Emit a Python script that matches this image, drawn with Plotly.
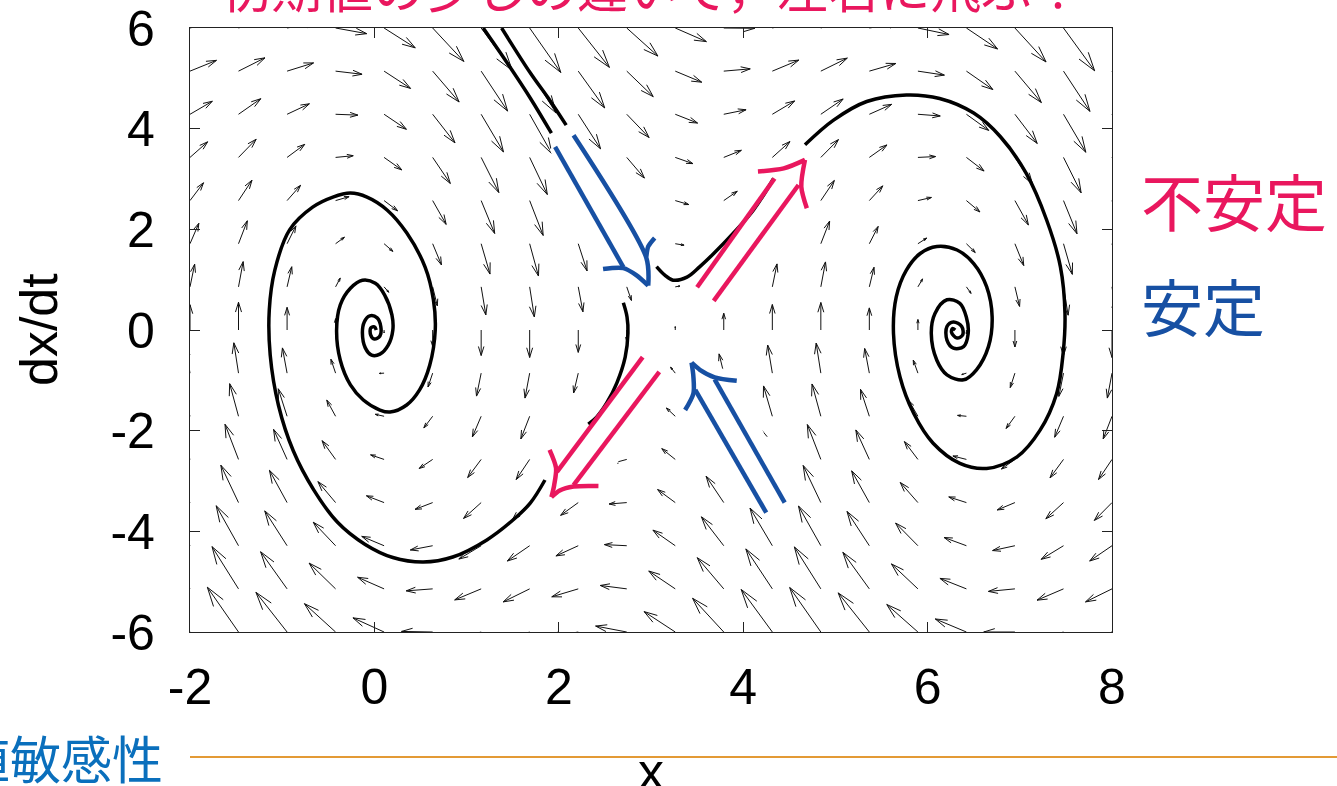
import math
import plotly.graph_objects as go

# vector field grid (x, dx/dt) and arrow components
ARROW_X = [-2.0, -1.474, -0.947, -0.421, 0.105, 0.632, 1.158, 1.684, 2.211, 2.737,
           3.263, 3.789, 4.316, 4.842, 5.368, 5.895, 6.421, 6.947, 7.474, 8.0]
ARROW_Y = [-6.0, -5.143, -4.286, -3.429, -2.571, -1.714, -0.857, 0.0,
           0.857, 1.714, 2.571, 3.429, 4.286, 5.143, 6.0]
# horizontal component, one value per row
ARROW_U = [-6.0, -5.1, -4.3, -3.4, -2.6, -1.7, -0.9, 0.0, 0.9, 1.7, 2.6, 3.4, 4.3, 5.1, 6.0]
# vertical component, rows bottom -> top
ARROW_V = [
    [14.9, 15.8, 14.0, 10.0, 5.0, 0.2, -3.0, -3.7, -1.9, 2.1, 7.2, 11.9, 15.0, 15.7, 13.8, 9.7, 4.6, 0.0, -3.1, -3.7],
    [14.0, 14.9, 13.1, 9.1, 4.1, -0.7, -3.9, -4.6, -2.8, 1.2, 6.3, 11.0, 14.1, 14.8, 12.9, 8.8, 3.7, -0.9, -4.0, -4.6],
    [13.2, 14.1, 12.3, 8.3, 3.3, -1.5, -4.7, -5.4, -3.6, 0.4, 5.5, 10.2, 13.3, 14.0, 12.1, 8.0, 2.9, -1.7, -4.8, -5.4],
    [12.3, 13.2, 11.4, 7.4, 2.4, -2.4, -5.6, -6.3, -4.5, -0.5, 4.6, 9.3, 12.4, 13.1, 11.2, 7.1, 2.0, -2.6, -5.7, -6.3],
    [11.5, 12.4, 10.6, 6.6, 1.6, -3.2, -6.4, -7.1, -5.3, -1.3, 3.8, 8.5, 11.6, 12.3, 10.4, 6.3, 1.2, -3.4, -6.5, -7.1],
    [10.6, 11.5, 9.7, 5.7, 0.7, -4.1, -7.3, -8.0, -6.2, -2.2, 2.9, 7.6, 10.7, 11.4, 9.5, 5.4, 0.3, -4.3, -7.4, -8.0],
    [9.8, 10.7, 8.9, 4.9, -0.1, -4.9, -8.1, -8.8, -7.0, -3.0, 2.1, 6.8, 9.9, 10.6, 8.7, 4.6, -0.5, -5.1, -8.2, -8.8],
    [8.9, 9.8, 8.0, 4.0, -1.0, -5.8, -9.0, -9.7, -7.9, -3.9, 1.2, 5.9, 9.0, 9.7, 7.8, 3.7, -1.4, -6.0, -9.1, -9.7],
    [8.0, 8.9, 7.1, 3.1, -1.9, -6.7, -9.9, -10.6, -8.8, -4.8, 0.3, 5.0, 8.1, 8.8, 6.9, 2.8, -2.3, -6.9, -10.0, -10.6],
    [7.2, 8.1, 6.3, 2.3, -2.7, -7.5, -10.7, -11.4, -9.6, -5.6, -0.5, 4.2, 7.3, 8.0, 6.1, 2.0, -3.1, -7.7, -10.8, -11.4],
    [6.3, 7.2, 5.4, 1.4, -3.6, -8.4, -11.6, -12.3, -10.5, -6.5, -1.4, 3.3, 6.4, 7.1, 5.2, 1.1, -4.0, -8.6, -11.7, -12.3],
    [5.5, 6.4, 4.6, 0.6, -4.4, -9.2, -12.4, -13.1, -11.3, -7.3, -2.2, 2.5, 5.6, 6.3, 4.4, 0.3, -4.8, -9.4, -12.5, -13.1],
    [4.6, 5.5, 3.7, -0.3, -5.3, -10.1, -13.3, -14.0, -12.2, -8.2, -3.1, 1.6, 4.7, 5.4, 3.5, -0.6, -5.7, -10.3, -13.4, -14.0],
    [3.8, 4.7, 2.9, -1.1, -6.1, -10.9, -14.1, -14.8, -13.0, -9.0, -3.9, 0.8, 3.9, 4.6, 2.7, -1.4, -6.5, -11.1, -14.2, -14.8],
    [2.9, 3.8, 2.0, -2.0, -7.0, -11.8, -15.0, -15.7, -13.9, -9.9, -4.8, -0.1, 3.0, 3.7, 1.8, -2.3, -7.4, -12.0, -15.1, -15.7],
]

# trajectories (visible pieces)
TOP_A_X = [1.18, 1.45, 1.69, 1.92]
TOP_A_Y = [6.0, 5.28, 4.61, 3.91]
TOP_B_X = [1.38, 1.69, 1.90, 2.08]
TOP_B_Y = [6.0, 5.11, 4.57, 4.07]

SADDLE_L_X = [2.70, 2.74, 2.75, 2.72, 2.63, 2.52, 2.41, 2.32]
SADDLE_L_Y = [0.54, 0.26, -0.06, -0.54, -1.05, -1.45, -1.73, -1.87]

SPIRAL_L_X = [1.85, 1.69, 1.50, 1.22, 0.85, 0.53, 0.20, -0.10, -0.40, -0.66, -0.88, -1.04, -1.13,
              -1.14, -1.08, -0.92, -0.67, -0.45, -0.26, -0.08, 0.14, 0.35, 0.55, 0.64, 0.66, 0.60,
              0.49, 0.35, 0.17, 0.06, -0.12, -0.26, -0.37, -0.41, -0.37, -0.26, -0.13, 0.01, 0.11,
              0.19, 0.20, 0.15, 0.06, -0.03, -0.10, -0.13, -0.11, -0.05, 0.03, 0.07, 0.06, 0.00,
              -0.04, -0.04, 0.00, 0.02]
SPIRAL_L_Y = [-2.98, -3.44, -3.78, -4.17, -4.51, -4.61, -4.52, -4.26, -3.82, -3.17, -2.40, -1.50, -0.50,
              0.40, 1.19, 1.99, 2.44, 2.64, 2.72, 2.64, 2.38, 1.93, 1.25, 0.60, 0.00, -0.70,
              -1.19, -1.49, -1.63, -1.59, -1.39, -1.09, -0.60, 0.00, 0.50, 0.83, 0.99, 0.93, 0.70,
              0.30, 0.00, -0.30, -0.48, -0.50, -0.35, -0.06, 0.16, 0.28, 0.24, 0.06, -0.12, -0.18,
              -0.10, 0.04, 0.06, 0.00]

SADDLE_R_X = [3.06, 3.15, 3.24, 3.39, 3.53, 3.68, 3.89, 4.11, 4.33]
SADDLE_R_Y = [1.26, 1.09, 0.99, 1.05, 1.26, 1.52, 1.92, 2.38, 3.01]

SPIRAL_R_X = [4.67, 4.98, 5.34, 5.77, 6.13, 6.50, 6.79, 7.07, 7.29, 7.44, 7.49, 7.47, 7.40, 7.22,
              6.97, 6.64, 6.35, 6.06, 5.85, 5.70, 5.63, 5.66, 5.77, 5.92, 6.10, 6.32, 6.50, 6.64,
              6.70, 6.66, 6.53, 6.39, 6.21, 6.10, 6.04, 6.08, 6.21, 6.35, 6.42, 6.44, 6.39, 6.28,
              6.21, 6.21, 6.28, 6.37, 6.38, 6.32, 6.26, 6.27, 6.30]
SPIRAL_R_Y = [3.68, 4.17, 4.54, 4.67, 4.60, 4.31, 3.84, 3.11, 2.19, 1.26, 0.33, -0.46, -1.26, -1.99,
              -2.52, -2.75, -2.65, -2.25, -1.66, -0.93, -0.07, 0.66, 1.19, 1.52, 1.66, 1.59, 1.32, 0.86,
              0.26, -0.33, -0.79, -0.99, -0.89, -0.60, -0.07, 0.33, 0.60, 0.53, 0.26, -0.07, -0.33, -0.36,
              -0.20, 0.07, 0.16, 0.07, -0.10, -0.16, -0.05, 0.03, 0.0]

# hand-drawn double arrows: shaft a, shaft b, barb 1, barb 2 (tip is last point of barbs)
BLUE_IN_TOP = [
    [(1.96, 3.64), (2.70, 1.25)],
    [(2.16, 3.87), (2.95, 1.43), (2.97, 0.88)],
    [(2.48, 1.21), (2.70, 1.23), (2.84, 1.09), (2.97, 0.88)],
    [(3.04, 1.83), (2.97, 1.66), (2.95, 1.46)],
]
RED_OUT_LEFT = [
    [(2.91, -0.54), (1.98, -2.82)],
    [(3.09, -0.83), (2.16, -3.08)],
    [(1.90, -2.38), (1.97, -2.74), (1.95, -3.08), (1.92, -3.32)],
    [(2.43, -3.10), (2.16, -3.11), (2.01, -3.19), (1.92, -3.32)],
]
BLUE_IN_BOTTOM = [
    [(4.25, -3.63), (3.48, -1.19)],
    [(4.45, -3.43), (3.69, -0.98)],
    [(3.37, -1.59), (3.46, -1.26), (3.46, -0.93), (3.44, -0.65)],
    [(3.93, -1.01), (3.69, -0.94), (3.53, -0.79), (3.44, -0.65)],
]
RED_OUT_RIGHT = [
    [(3.50, 0.85), (4.34, 3.01)],
    [(3.68, 0.58), (4.60, 2.88)],
    [(4.16, 3.15), (4.44, 3.21), (4.67, 3.38)],
    [(4.69, 2.42), (4.63, 2.85), (4.67, 3.38)],
]

RED = "#E9175E"
BLUE = "#1750A3"
TEXT_BLUE = "#0A6FBC"
X_RANGE = [-2, 8]
Y_RANGE = [-6, 6]
W, H = 1337, 786
M = dict(l=190, r=225, t=28, b=154)
SCALE = 0.0563

plot_w = W - M["l"] - M["r"]
plot_h = H - M["t"] - M["b"]
sx = plot_w / (X_RANGE[1] - X_RANGE[0])
sy = plot_h / (Y_RANGE[1] - Y_RANGE[0])

# quiver segments with heads worked out in screen space
qx, qy = [], []
head_frac, head_ang = 0.37, math.radians(17)
for j, y in enumerate(ARROW_Y):
    for i, x in enumerate(ARROW_X):
        dx, dy = SCALE * ARROW_U[j], SCALE * ARROW_V[j][i]
        px, py = dx * sx, dy * sy
        length = math.hypot(px, py)
        if length < 1:
            continue
        hx, hy = x + dx, y + dy
        a = math.atan2(py, px)
        h = head_frac * length
        b1 = (hx - h * math.cos(a + head_ang) / sx, hy - h * math.sin(a + head_ang) / sy)
        b2 = (hx - h * math.cos(a - head_ang) / sx, hy - h * math.sin(a - head_ang) / sy)
        qx += [x, hx, None, b1[0], hx, b2[0], None]
        qy += [y, hy, None, b1[1], hy, b2[1], None]

fig = go.Figure()
fig.add_trace(go.Scatter(x=qx, y=qy, mode="lines", line=dict(color="#111", width=1),
                         hoverinfo="skip", showlegend=False))

# white backing behind each drawn arrow
for arr in [BLUE_IN_TOP, RED_OUT_LEFT, BLUE_IN_BOTTOM, RED_OUT_RIGHT]:
    sa, sb, b1, b2 = arr
    poly = [sa[0], b1[0], b1[-1], b2[0], sb[0], sa[0]]
    fig.add_trace(go.Scatter(x=[p[0] for p in poly], y=[p[1] for p in poly], mode="lines",
                             fill="toself", fillcolor="white", line=dict(color="white", width=12),
                             hoverinfo="skip", showlegend=False))

for tx, ty in [(TOP_A_X, TOP_A_Y), (TOP_B_X, TOP_B_Y), (SADDLE_L_X, SADDLE_L_Y),
               (SPIRAL_L_X, SPIRAL_L_Y), (SADDLE_R_X, SADDLE_R_Y), (SPIRAL_R_X, SPIRAL_R_Y)]:
    fig.add_trace(go.Scatter(x=tx, y=ty, mode="lines",
                             line=dict(color="black", width=3.5, shape="spline", smoothing=1.0),
                             hoverinfo="skip", showlegend=False))

for arr, col in [(BLUE_IN_TOP, BLUE), (RED_OUT_LEFT, RED), (BLUE_IN_BOTTOM, BLUE), (RED_OUT_RIGHT, RED)]:
    for stroke in arr:
        fig.add_trace(go.Scatter(x=[p[0] for p in stroke], y=[p[1] for p in stroke], mode="lines",
                                 line=dict(color=col, width=4.5, shape="spline", smoothing=0.8),
                                 hoverinfo="skip", showlegend=False))

tick_font = dict(family="Liberation Sans, Arial", size=50, color="black")
axis_common = dict(showgrid=False, zeroline=False, showline=True, mirror="ticks",
                   linecolor="#222", linewidth=1.2, ticks="inside", ticklen=10,
                   tickwidth=1, tickcolor="#222", tickfont=tick_font, automargin=False)
fig.update_xaxes(range=X_RANGE, tickvals=[-2, 0, 2, 4, 6, 8], ticklabelstandoff=11,
                 ticktext=["-2", "0", "2", "4", "6", "8"], **axis_common)
fig.update_yaxes(range=Y_RANGE, tickvals=[-6, -4, -2, 0, 2, 4, 6], ticklabelstandoff=24,
                 ticktext=["-6", "-4", "-2", "0", "2", "4", "6"], **axis_common)

jp = "Noto Sans CJK JP"
fig.update_layout(
    width=W, height=H, margin=M, plot_bgcolor="white", paper_bgcolor="white",
    annotations=[
        dict(text="初期値の少しの違いで，左右に飛ぶ！", xref="paper", yref="paper", x=0.5, y=1,
             yanchor="middle", yshift=42, showarrow=False, font=dict(family=jp, size=51, color=RED)),
        dict(text="不安定", xref="paper", yref="paper", x=1, xshift=27, xanchor="left",
             y=0.715, yanchor="middle", showarrow=False, font=dict(family=jp, size=62, color=RED)),
        dict(text="安定", xref="paper", yref="paper", x=1, xshift=27, xanchor="left",
             y=0.541, yanchor="middle", showarrow=False, font=dict(family=jp, size=62, color=BLUE)),
        dict(text="初期値敏感性", xref="paper", yref="paper", x=0, xshift=-25, xanchor="right",
             y=0, yshift=-125, yanchor="middle", showarrow=False,
             font=dict(family=jp, size=51, color=TEXT_BLUE)),
        dict(text="dx/dt", xref="paper", yref="paper", x=0, xshift=-182, y=0.5, textangle=-90,
             showarrow=False, font=dict(family="Liberation Sans, Arial", size=52, color="black")),
        dict(text="x", xref="paper", yref="paper", x=0.5, y=0, yshift=-139, yanchor="middle",
             showarrow=False, font=dict(family="Liberation Sans, Arial", size=52, color="black")),
    ],
    shapes=[dict(type="line", xref="paper", yref="paper", x0=0, x1=(W - M["l"]) / plot_w,
                 y0=-125 / plot_h, y1=-125 / plot_h, line=dict(color="#E39A35", width=2))],
)

fig.write_html("out.html", config={"displayModeBar": False},
               post_script="document.body.style.margin='0px';")
